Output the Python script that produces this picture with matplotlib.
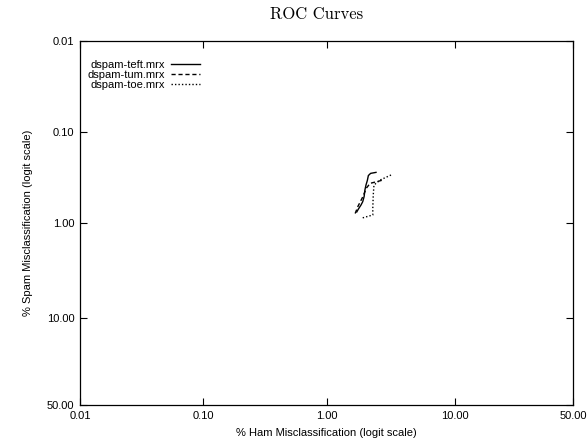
import numpy as np
import matplotlib
matplotlib.use('Agg')
import matplotlib.pyplot as plt
from matplotlib.ticker import FixedLocator, FixedFormatter, NullLocator

# Values (percent)
teft_ham = [1.73, 1.78, 1.87, 1.93, 1.98, 2.01, 2.05, 2.10, 2.14, 2.23, 2.46]
teft_spam = [0.75, 0.70, 0.63, 0.58, 0.51, 0.43, 0.38, 0.34, 0.30, 0.284, 0.277]

tum_ham = [1.68, 1.77, 1.91, 2.07, 2.21, 2.50, 2.79]
tum_spam = [0.78, 0.65, 0.53, 0.41, 0.365, 0.35, 0.336]

toe_ham = [1.93, 2.07, 2.32, 2.32, 2.34, 2.37, 2.65, 3.23]
toe_spam = [0.87, 0.846, 0.81, 0.685, 0.49, 0.381, 0.336, 0.296]

tick_vals = [0.01, 0.10, 1.00, 10.00, 50.00]
tick_labels = ['0.01', '0.10', '1.00', '10.00', '50.00']

plt.rcParams['font.family'] = ['Liberation Sans', 'DejaVu Sans']

fig = plt.figure(figsize=(5.87, 4.38), dpi=100)
ax = fig.add_axes([0.1363, 0.0753, 0.8398, 0.8311])

# logit scale works on fractions, so convert from percent
ax.plot(np.array(teft_ham) / 100, np.array(teft_spam) / 100, color='black', lw=1.0, ls='-', label='dspam-teft.mrx')
ax.plot(np.array(tum_ham) / 100, np.array(tum_spam) / 100, color='black', lw=1.0, ls=(0, (3, 2)), label='dspam-tum.mrx')
ax.plot(np.array(toe_ham) / 100, np.array(toe_spam) / 100, color='black', lw=1.0, ls=(0, (1, 1.5)), label='dspam-toe.mrx')

ax.set_xscale('logit')
ax.set_yscale('logit')
ax.set_xlim(0.0001, 0.5)
ax.set_ylim(0.5, 0.0001)

ticks = [v / 100 for v in tick_vals]
for axis in (ax.xaxis, ax.yaxis):
    axis.set_major_locator(FixedLocator(ticks))
    axis.set_major_formatter(FixedFormatter(tick_labels))
    axis.set_minor_locator(NullLocator())

ax.tick_params(direction='in', top=True, right=True, length=5, width=0.8, labelsize=8, pad=4)
for s in ax.spines.values():
    s.set_linewidth(0.9)

ax.set_xlabel('% Ham Misclassification (logit scale)', fontsize=8, labelpad=5)
ax.set_ylabel('% Spam Misclassification (logit scale)', fontsize=8, labelpad=10)
ax.set_title('ROC Curves', fontsize=12, fontfamily='cmr10', pad=16, x=0.48)

leg = ax.legend(loc='upper left', bbox_to_anchor=(0.0, 0.97), frameon=False, markerfirst=False,
                fontsize=8, handlelength=2.6, labelspacing=0.0, handletextpad=0.5, borderaxespad=0.3)

fig.savefig('out.png', dpi=100)
